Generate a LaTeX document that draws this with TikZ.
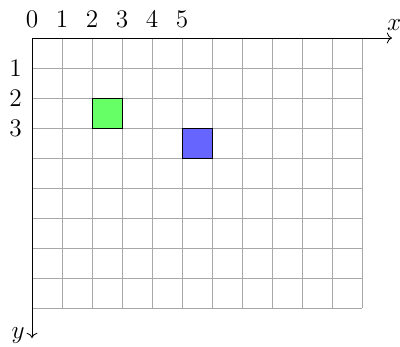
\documentclass[tikz,border=0pt]{standalone}
\usetikzlibrary{arrows.meta, positioning}
\definecolor{gridgray}{HTML}{A8A8A8}
\definecolor{cellgreen}{HTML}{66FF66}
\definecolor{cellblue}{HTML}{6666FF}

\begin{document}
\begin{tikzpicture}[
    x=0.5cm, y=-0.5cm,
    every node/.style={font=\large},
    gridline/.style={gridgray, line width=0.4pt},
    axisline/.style={black, line width=0.4pt, ->},
    cellbox/.style={draw=black, line width=0.4pt},
    ticklabel/.style={inner sep=0pt},
  ]

  % Bounding box (keeps the margins of the reference)
  \useasboundingbox (-1.0667,-1.2667) rectangle (12.2667,10.3);

  % === Grid ===
  \draw[gridline, step=0.5cm] (0,0) grid (11,9);

  % === Filled cells ===
  \filldraw[cellbox, fill=cellgreen] (2,2) rectangle (3,3);
  \filldraw[cellbox, fill=cellblue] (5,3) rectangle (6,4);

  % === Axes ===
  \coordinate (origin) at (0,0);
  \coordinate (xend) at (12,0);
  \coordinate (yend) at (0,10);
  \draw[axisline] (origin) -- (xend);
  \draw[axisline] (origin) -- (yend);
  \node[above=0pt of xend, xshift=1pt] (xlab) {$x$};
  \node[left=0pt of yend, yshift=1pt] (ylab) {$y$};

  % Tick labels
  \foreach \i in {0,...,5}
    \node[ticklabel] (xt\i) at (\i,-0.62) {$\i$};
  \foreach \j in {1,2,3}
    \node[ticklabel] (yt\j) at (-0.55,\j) {$\j$};

\end{tikzpicture}
\end{document}
